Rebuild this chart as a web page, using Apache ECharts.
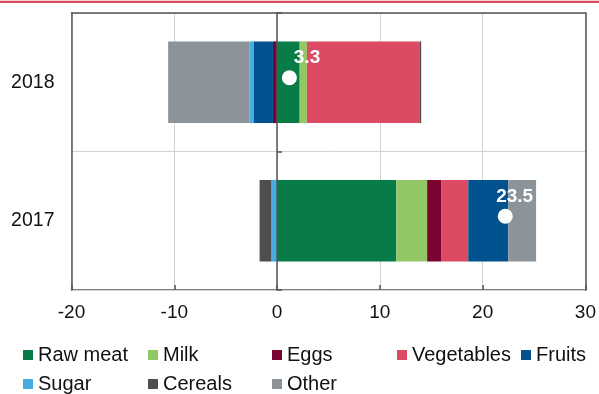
<!DOCTYPE html>
<html>
<head>
<meta charset="utf-8">
<script src="https://cdn.jsdelivr.net/npm/echarts@6/dist/echarts.min.js"></script>
<style>
  html, body { margin: 0; padding: 0; background: #fff; }
  #chart { width: 599px; height: 394px; }
</style>
</head>
<body>
<div id="chart"></div>
<script>
// ---- data ----
const categories = ['2017', '2018'];
const seriesNames = ['Raw meat', 'Milk', 'Eggs', 'Vegetables', 'Fruits', 'Sugar', 'Cereals', 'Other'];
// values per category: [2017, 2018]
const rawMeat    = [11.6, 2.2];
const milk       = [3.0, 0.7];
const eggs       = [1.4, -0.4];
const vegetables = [2.6, 11.0];
const fruits     = [3.9, -1.9];
const sugar      = [-0.55, -0.4];
const cereals    = [-1.15, 0.12];
const other      = [2.7, -7.9];
const netValues  = [23.5, 3.3];    // labelled totals
const dotValues  = [22.2, 1.2];    // white marker positions
const xTicks     = { min: -20, max: 30, interval: 10 };

const seriesValues = [rawMeat, milk, eggs, vegetables, fruits, sugar, cereals, other];
const colors = ['#077c46', '#92c765', '#7a0331', '#dc4a64', '#01528f', '#47aee4', '#4e4e4e', '#8d9499'];

const FONT = '"Liberation Sans", Arial, sans-serif';
const AXIS_DARK = '#555';

const barSeries = seriesNames.map((name, i) => ({
  name: name,
  type: 'bar',
  stack: 'total',
  barWidth: '59%',
  itemStyle: { color: colors[i], opacity: 1 },
  emphasis: { disabled: true },
  data: seriesValues[i]
}));

const dotSeries = {
  name: 'dot',
  type: 'scatter',
  symbol: 'circle',
  symbolSize: 15,
  symbolOffset: [0, -4.5],
  itemStyle: { color: '#ffffff', opacity: 1 },
  emphasis: { disabled: true },
  z: 5,
  data: categories.map((c, i) => [dotValues[i], c])
};

const labelSeries = {
  name: 'net',
  type: 'scatter',
  symbolSize: 0,
  itemStyle: { opacity: 1 },
  emphasis: { disabled: true },
  z: 6,
  label: {
    show: true,
    position: 'inside',
    offset: [-4, -24],
    color: '#ffffff',
    fontFamily: FONT,
    fontWeight: 'bold',
    fontSize: 19,
    formatter: p => netValues[p.dataIndex].toFixed(1)
  },
  data: categories.map((c, i) => [netValues[i], c])
};

// legend positions (icon left x, top y)
const legendPos = [
  [23, 345], [148, 345], [272, 345], [397, 345], [521, 345],
  [23, 374], [148, 374], [272, 374]
];
const legends = seriesNames.map((name, i) => ({
  data: [name],
  left: legendPos[i][0],
  top: legendPos[i][1],
  padding: 0,
  icon: 'rect',
  itemWidth: 10,
  itemHeight: 10,
  itemGap: 0,
  selectedMode: false,
  textStyle: { fontFamily: FONT, fontSize: 20, color: '#111' }
}));

const option = {
  animation: false,
  backgroundColor: '#ffffff',
  graphic: [{
    type: 'rect',
    shape: { x: 0, y: 0.8, width: 599, height: 2.2 },
    style: { fill: '#d94a5f' },
    silent: true
  }],
  grid: {
    left: 71.5, right: 10.5, top: 13, bottom: 104,
    show: false,
    containLabel: false
  },
  legend: legends,
  xAxis: [{
    type: 'value',
    position: 'bottom',
    min: xTicks.min, max: xTicks.max, interval: xTicks.interval,
    axisLine: { show: true, onZero: false, lineStyle: { color: AXIS_DARK, width: 1.5 } },
    axisTick: { show: true, inside: true, length: 5, lineStyle: { color: AXIS_DARK, width: 1.5 } },
    axisLabel: { fontFamily: FONT, fontSize: 19, color: '#111', margin: 13 },
    splitLine: { show: true, lineStyle: { color: '#d2d2d2', width: 1 } }
  }, {
    type: 'value',
    position: 'top',
    min: xTicks.min, max: xTicks.max, interval: xTicks.interval,
    z: 10,
    axisLine: { show: true, onZero: false, lineStyle: { color: AXIS_DARK, width: 1.5 } },
    axisTick: { show: false },
    axisLabel: { show: false },
    splitLine: { show: false }
  }],
  yAxis: [{
    type: 'category',
    data: categories,
    position: 'left',
    z: 10,
    axisLine: { show: true, onZero: false, lineStyle: { color: AXIS_DARK, width: 1.5 } },
    axisTick: { show: false },
    axisLabel: { fontFamily: FONT, fontSize: 19.5, color: '#111', margin: 17 },
    splitLine: { show: true, lineStyle: { color: '#d2d2d2', width: 1 } }
  }, {
    type: 'category',
    data: categories,
    position: 'left',
    z: 10,
    axisLine: { show: true, onZero: true, lineStyle: { color: AXIS_DARK, width: 1.5 } },
    axisTick: { show: true, inside: true, length: 5, lineStyle: { color: AXIS_DARK, width: 1.5 } },
    axisLabel: { show: false },
    splitLine: { show: false }
  }, {
    type: 'category',
    data: categories,
    position: 'right',
    z: 10,
    axisLine: { show: true, onZero: false, lineStyle: { color: AXIS_DARK, width: 1.5 } },
    axisTick: { show: false },
    axisLabel: { show: false },
    splitLine: { show: false }
  }],
  series: barSeries.concat([dotSeries, labelSeries])
};

const chart = echarts.init(document.getElementById('chart'), null, { renderer: 'canvas' });
chart.setOption(option);
</script>
</body>
</html>
